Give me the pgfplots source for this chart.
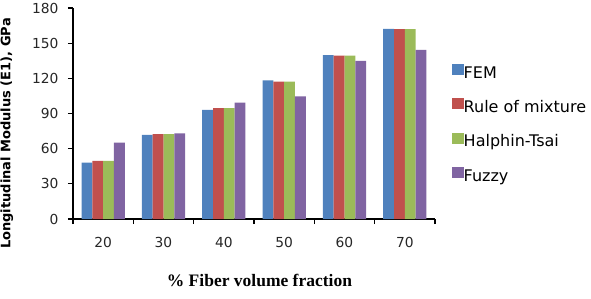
\documentclass[border=0pt]{standalone}
\usepackage{pgfplots}
\pgfplotsset{compat=1.18}
\usepackage{fontspec}
\setmainfont{Liberation Serif}
\newfontfamily\tickf{DejaVu Sans}
\definecolor{cfem}{HTML}{4F81BD}
\definecolor{crom}{HTML}{C0504D}
\definecolor{cht}{HTML}{9BBB59}
\definecolor{cfz}{HTML}{8064A2}
\begin{document}
\begin{tikzpicture}
\useasboundingbox (-73pt,-79pt) rectangle (518pt,219pt);
\begin{axis}[
  at={(0,0)}, anchor=south west,
  scale only axis, width=362pt, height=211pt,
  ybar=0pt, bar width=10.8pt,
  xmin=-0.5, xmax=5.5, ymin=0, ymax=180,
  ytick={0,30,...,180},
  xtick={-0.5,0.5,...,5.5},
  xticklabels={20,30,40,50,60,70,},
  x tick label as interval,
  axis lines*=left,
  axis line style={black, line width=1.4pt},
  tick align=outside, major tick length=5pt,
  tick style={black, line width=1.2pt},
  /pgf/number format/assume math mode=true,
  tick label style={font=\tickf\fontsize{13.8}{13.8}\selectfont, text=black!85},
  xticklabel style={yshift=-10pt},
  yticklabel style={xshift=-6pt},
  ylabel={Longitudinal Modulus (E1), GPa},
  ylabel style={at={(axis description cs:-0.183,0.405)}, anchor=center, font=\tickf\bfseries\fontsize{13}{13}\selectfont},
  xlabel={\% Fiber volume fraction},
  xlabel style={at={(axis description cs:0.515,-0.289)}, anchor=center, font=\bfseries\fontsize{17.5}{17.5}\selectfont},
  legend style={at={(axis description cs:1.047,0.735)}, anchor=north west, draw=none, fill=none,
     font=\tickf\fontsize{16}{16}\selectfont, row sep=17pt, inner sep=0pt,
     nodes={text height=11.5pt, text depth=3pt, inner sep=0pt},
     /tikz/every even column/.append style={column sep=0pt},
     legend cell align=left},
  legend image code/.code={\fill[#1] (0pt,-1pt) rectangle (11.5pt,10pt);},
]
\addplot[fill=cfem, draw=none] coordinates {(0,48) (1,71.7) (2,93) (3,118.3) (4,139.8) (5,162.3)};
\addplot[fill=crom, draw=none] coordinates {(0,49.5) (1,72.5) (2,94.6) (3,117.2) (4,139.4) (5,162)};
\addplot[fill=cht, draw=none] coordinates {(0,49.5) (1,72.5) (2,94.6) (3,117.2) (4,139.4) (5,162)};
\addplot[fill=cfz, draw=none] coordinates {(0,65.1) (1,73.1) (2,99.2) (3,104.6) (4,134.8) (5,144.2)};
\legend{FEM, Rule of mixture, Halphin-Tsai, Fuzzy}
\end{axis}
\end{tikzpicture}
\end{document}
